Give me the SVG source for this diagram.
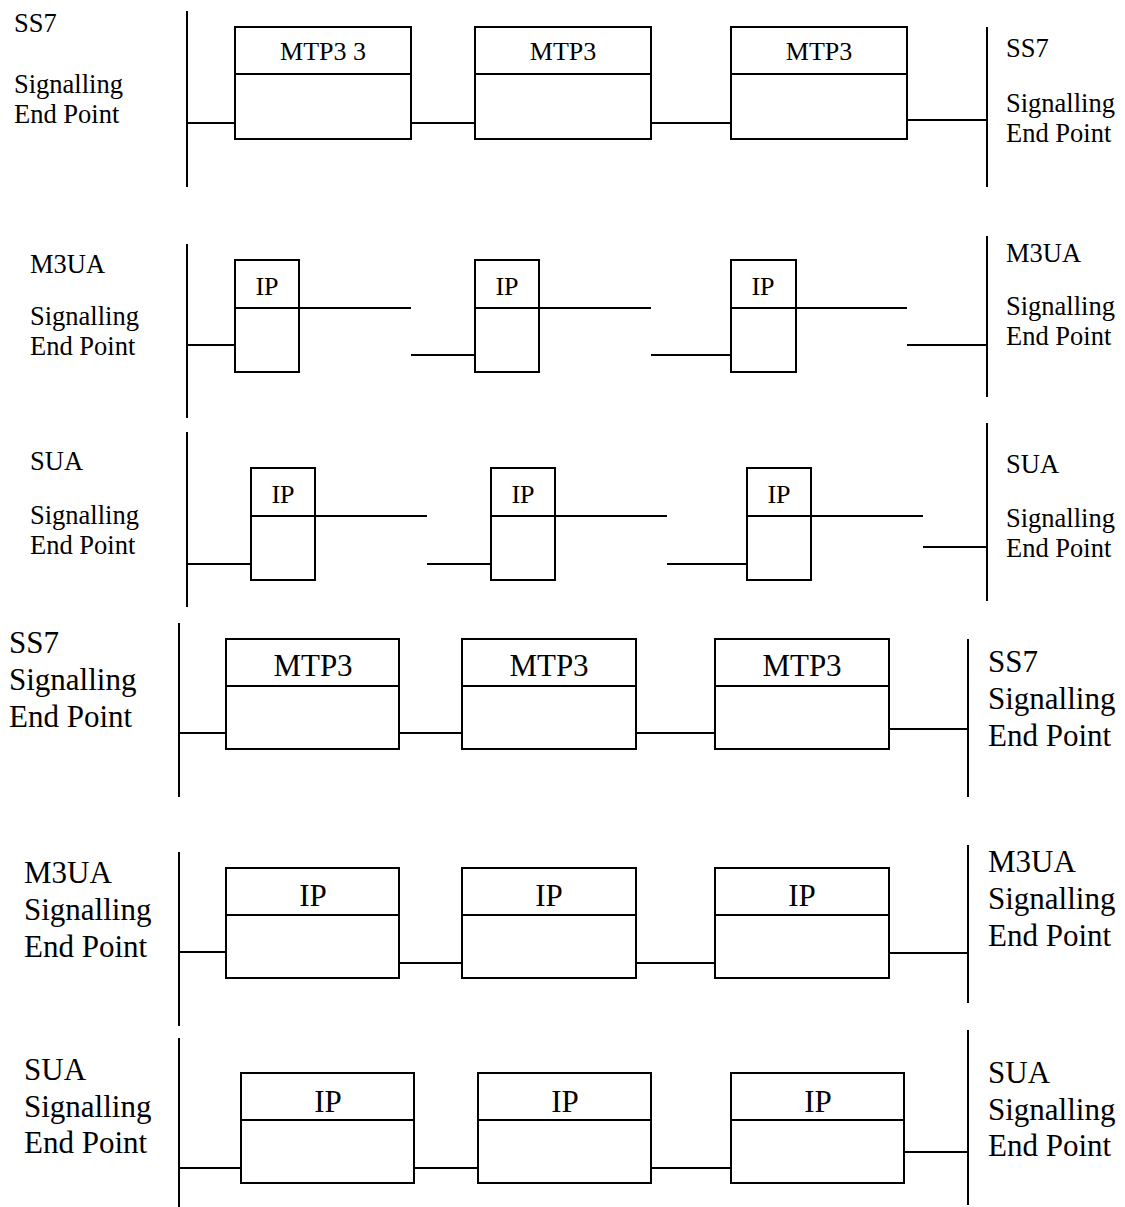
<svg xmlns="http://www.w3.org/2000/svg" width="1125" height="1207" viewBox="0 0 1125 1207">
<style>
.box{fill:none;stroke:#000;stroke-width:2}
.ln{stroke:#000;stroke-width:2;fill:none}
text{font-family:"Liberation Serif","Times New Roman",serif;fill:#000}
.s{font-size:26.5px}
.b{font-size:26px}
.l{font-size:31px}
.c{text-anchor:middle}
</style>
<rect width="1125" height="1207" fill="#fff"/>

<!-- Section 1: SS7 (small) -->
<g id="s1-left-label"><text class="s" x="14" y="32">SS7</text><text class="s" x="14" y="93">Signalling</text><text class="s" x="14" y="123">End Point</text></g>
<g id="s1-right-label"><text class="s" x="1006" y="57">SS7</text><text class="s" x="1006" y="112">Signalling</text><text class="s" x="1006" y="142">End Point</text></g>
<g id="s1-box1"><rect class="box" x="235" y="27" width="176" height="112"/><line class="ln" x1="235" y1="74" x2="411" y2="74"/><text class="b c" x="323" y="60">MTP3 3</text></g>
<g id="s1-box2"><rect class="box" x="475" y="27" width="176" height="112"/><line class="ln" x1="475" y1="74" x2="651" y2="74"/><text class="b c" x="563" y="60">MTP3</text></g>
<g id="s1-box3"><rect class="box" x="731" y="27" width="176" height="112"/><line class="ln" x1="731" y1="74" x2="907" y2="74"/><text class="b c" x="819" y="60">MTP3</text></g>

<!-- Section 2: M3UA (small) -->
<g id="s2-left-label"><text class="s" x="30" y="273">M3UA</text><text class="s" x="30" y="325">Signalling</text><text class="s" x="30" y="355">End Point</text></g>
<g id="s2-right-label"><text class="s" x="1006" y="262">M3UA</text><text class="s" x="1006" y="315">Signalling</text><text class="s" x="1006" y="345">End Point</text></g>
<g id="s2-box1"><rect class="box" x="235" y="260" width="64" height="112"/><line class="ln" x1="235" y1="308" x2="299" y2="308"/><text class="b c" x="267" y="295">IP</text></g>
<g id="s2-box2"><rect class="box" x="475" y="260" width="64" height="112"/><line class="ln" x1="475" y1="308" x2="539" y2="308"/><text class="b c" x="507" y="295">IP</text></g>
<g id="s2-box3"><rect class="box" x="731" y="260" width="65" height="112"/><line class="ln" x1="731" y1="308" x2="796" y2="308"/><text class="b c" x="763" y="295">IP</text></g>

<!-- Section 3: SUA (small) -->
<g id="s3-left-label"><text class="s" x="30" y="470">SUA</text><text class="s" x="30" y="524">Signalling</text><text class="s" x="30" y="554">End Point</text></g>
<g id="s3-right-label"><text class="s" x="1006" y="473">SUA</text><text class="s" x="1006" y="527">Signalling</text><text class="s" x="1006" y="557">End Point</text></g>
<g id="s3-box1"><rect class="box" x="251" y="468" width="64" height="112"/><line class="ln" x1="251" y1="516" x2="315" y2="516"/><text class="b c" x="283" y="503">IP</text></g>
<g id="s3-box2"><rect class="box" x="491" y="468" width="64" height="112"/><line class="ln" x1="491" y1="516" x2="555" y2="516"/><text class="b c" x="523" y="503">IP</text></g>
<g id="s3-box3"><rect class="box" x="747" y="468" width="64" height="112"/><line class="ln" x1="747" y1="516" x2="811" y2="516"/><text class="b c" x="779" y="503">IP</text></g>

<!-- Section 4: SS7 (large) -->
<g id="s4-left-label"><text class="l" x="9" y="653">SS7</text><text class="l" x="9" y="690">Signalling</text><text class="l" x="9" y="727">End Point</text></g>
<g id="s4-right-label"><text class="l" x="988" y="672">SS7</text><text class="l" x="988" y="709">Signalling</text><text class="l" x="988" y="746">End Point</text></g>
<g id="s4-box1"><rect class="box" x="226" y="639" width="173" height="110"/><line class="ln" x1="226" y1="686" x2="399" y2="686"/><text class="l c" x="313" y="676">MTP3</text></g>
<g id="s4-box2"><rect class="box" x="462" y="639" width="174" height="110"/><line class="ln" x1="462" y1="686" x2="636" y2="686"/><text class="l c" x="549" y="676">MTP3</text></g>
<g id="s4-box3"><rect class="box" x="715" y="639" width="174" height="110"/><line class="ln" x1="715" y1="686" x2="889" y2="686"/><text class="l c" x="802" y="676">MTP3</text></g>

<!-- Section 5: M3UA (large) -->
<g id="s5-left-label"><text class="l" x="24" y="883">M3UA</text><text class="l" x="24" y="920">Signalling</text><text class="l" x="24" y="957">End Point</text></g>
<g id="s5-right-label"><text class="l" x="988" y="872">M3UA</text><text class="l" x="988" y="909">Signalling</text><text class="l" x="988" y="946">End Point</text></g>
<g id="s5-box1"><rect class="box" x="226" y="868" width="173" height="110"/><line class="ln" x1="226" y1="915" x2="399" y2="915"/><text class="l c" x="313" y="906">IP</text></g>
<g id="s5-box2"><rect class="box" x="462" y="868" width="174" height="110"/><line class="ln" x1="462" y1="915" x2="636" y2="915"/><text class="l c" x="549" y="906">IP</text></g>
<g id="s5-box3"><rect class="box" x="715" y="868" width="174" height="110"/><line class="ln" x1="715" y1="915" x2="889" y2="915"/><text class="l c" x="802" y="906">IP</text></g>

<!-- Section 6: SUA (large) -->
<g id="s6-left-label"><text class="l" x="24" y="1080">SUA</text><text class="l" x="24" y="1117">Signalling</text><text class="l" x="24" y="1153">End Point</text></g>
<g id="s6-right-label"><text class="l" x="988" y="1083">SUA</text><text class="l" x="988" y="1120">Signalling</text><text class="l" x="988" y="1156">End Point</text></g>
<g id="s6-box1"><rect class="box" x="241" y="1073" width="173" height="110"/><line class="ln" x1="241" y1="1120" x2="414" y2="1120"/><text class="l c" x="328" y="1112">IP</text></g>
<g id="s6-box2"><rect class="box" x="478" y="1073" width="173" height="110"/><line class="ln" x1="478" y1="1120" x2="651" y2="1120"/><text class="l c" x="565" y="1112">IP</text></g>
<g id="s6-box3"><rect class="box" x="731" y="1073" width="173" height="110"/><line class="ln" x1="731" y1="1120" x2="904" y2="1120"/><text class="l c" x="818" y="1112">IP</text></g>

<g id="connectors">
<!-- section 1 -->
<line class="ln" x1="187" y1="11" x2="187" y2="187"/>
<line class="ln" x1="987" y1="27" x2="987" y2="187"/>
<line class="ln" x1="187" y1="123" x2="235" y2="123"/>
<line class="ln" x1="411" y1="123" x2="475" y2="123"/>
<line class="ln" x1="651" y1="123" x2="731" y2="123"/>
<line class="ln" x1="907" y1="120" x2="987" y2="120"/>
<!-- section 2 -->
<line class="ln" x1="187" y1="244" x2="187" y2="418"/>
<line class="ln" x1="987" y1="236" x2="987" y2="397"/>
<line class="ln" x1="187" y1="345" x2="235" y2="345"/>
<line class="ln" x1="299" y1="308" x2="411" y2="308"/>
<line class="ln" x1="411" y1="355" x2="475" y2="355"/>
<line class="ln" x1="539" y1="308" x2="651" y2="308"/>
<line class="ln" x1="651" y1="355" x2="731" y2="355"/>
<line class="ln" x1="796" y1="308" x2="907" y2="308"/>
<line class="ln" x1="907" y1="345" x2="987" y2="345"/>
<!-- section 3 -->
<line class="ln" x1="187" y1="432" x2="187" y2="607"/>
<line class="ln" x1="987" y1="423" x2="987" y2="601"/>
<line class="ln" x1="187" y1="564" x2="251" y2="564"/>
<line class="ln" x1="315" y1="516" x2="427" y2="516"/>
<line class="ln" x1="427" y1="564" x2="491" y2="564"/>
<line class="ln" x1="555" y1="516" x2="667" y2="516"/>
<line class="ln" x1="667" y1="564" x2="747" y2="564"/>
<line class="ln" x1="811" y1="516" x2="923" y2="516"/>
<line class="ln" x1="923" y1="547" x2="987" y2="547"/>
<!-- section 4 -->
<line class="ln" x1="179" y1="623" x2="179" y2="797"/>
<line class="ln" x1="968" y1="639" x2="968" y2="797"/>
<line class="ln" x1="179" y1="733" x2="226" y2="733"/>
<line class="ln" x1="399" y1="733" x2="462" y2="733"/>
<line class="ln" x1="636" y1="733" x2="715" y2="733"/>
<line class="ln" x1="889" y1="729" x2="968" y2="729"/>
<!-- section 5 -->
<line class="ln" x1="179" y1="852" x2="179" y2="1026"/>
<line class="ln" x1="968" y1="845" x2="968" y2="1003"/>
<line class="ln" x1="179" y1="952" x2="226" y2="952"/>
<line class="ln" x1="399" y1="963" x2="462" y2="963"/>
<line class="ln" x1="636" y1="963" x2="715" y2="963"/>
<line class="ln" x1="889" y1="953" x2="968" y2="953"/>
<!-- section 6 -->
<line class="ln" x1="179" y1="1038" x2="179" y2="1207"/>
<line class="ln" x1="968" y1="1030" x2="968" y2="1205"/>
<line class="ln" x1="179" y1="1168" x2="241" y2="1168"/>
<line class="ln" x1="414" y1="1168" x2="478" y2="1168"/>
<line class="ln" x1="651" y1="1168" x2="731" y2="1168"/>
<line class="ln" x1="904" y1="1152" x2="968" y2="1152"/>
</g>
</svg>
